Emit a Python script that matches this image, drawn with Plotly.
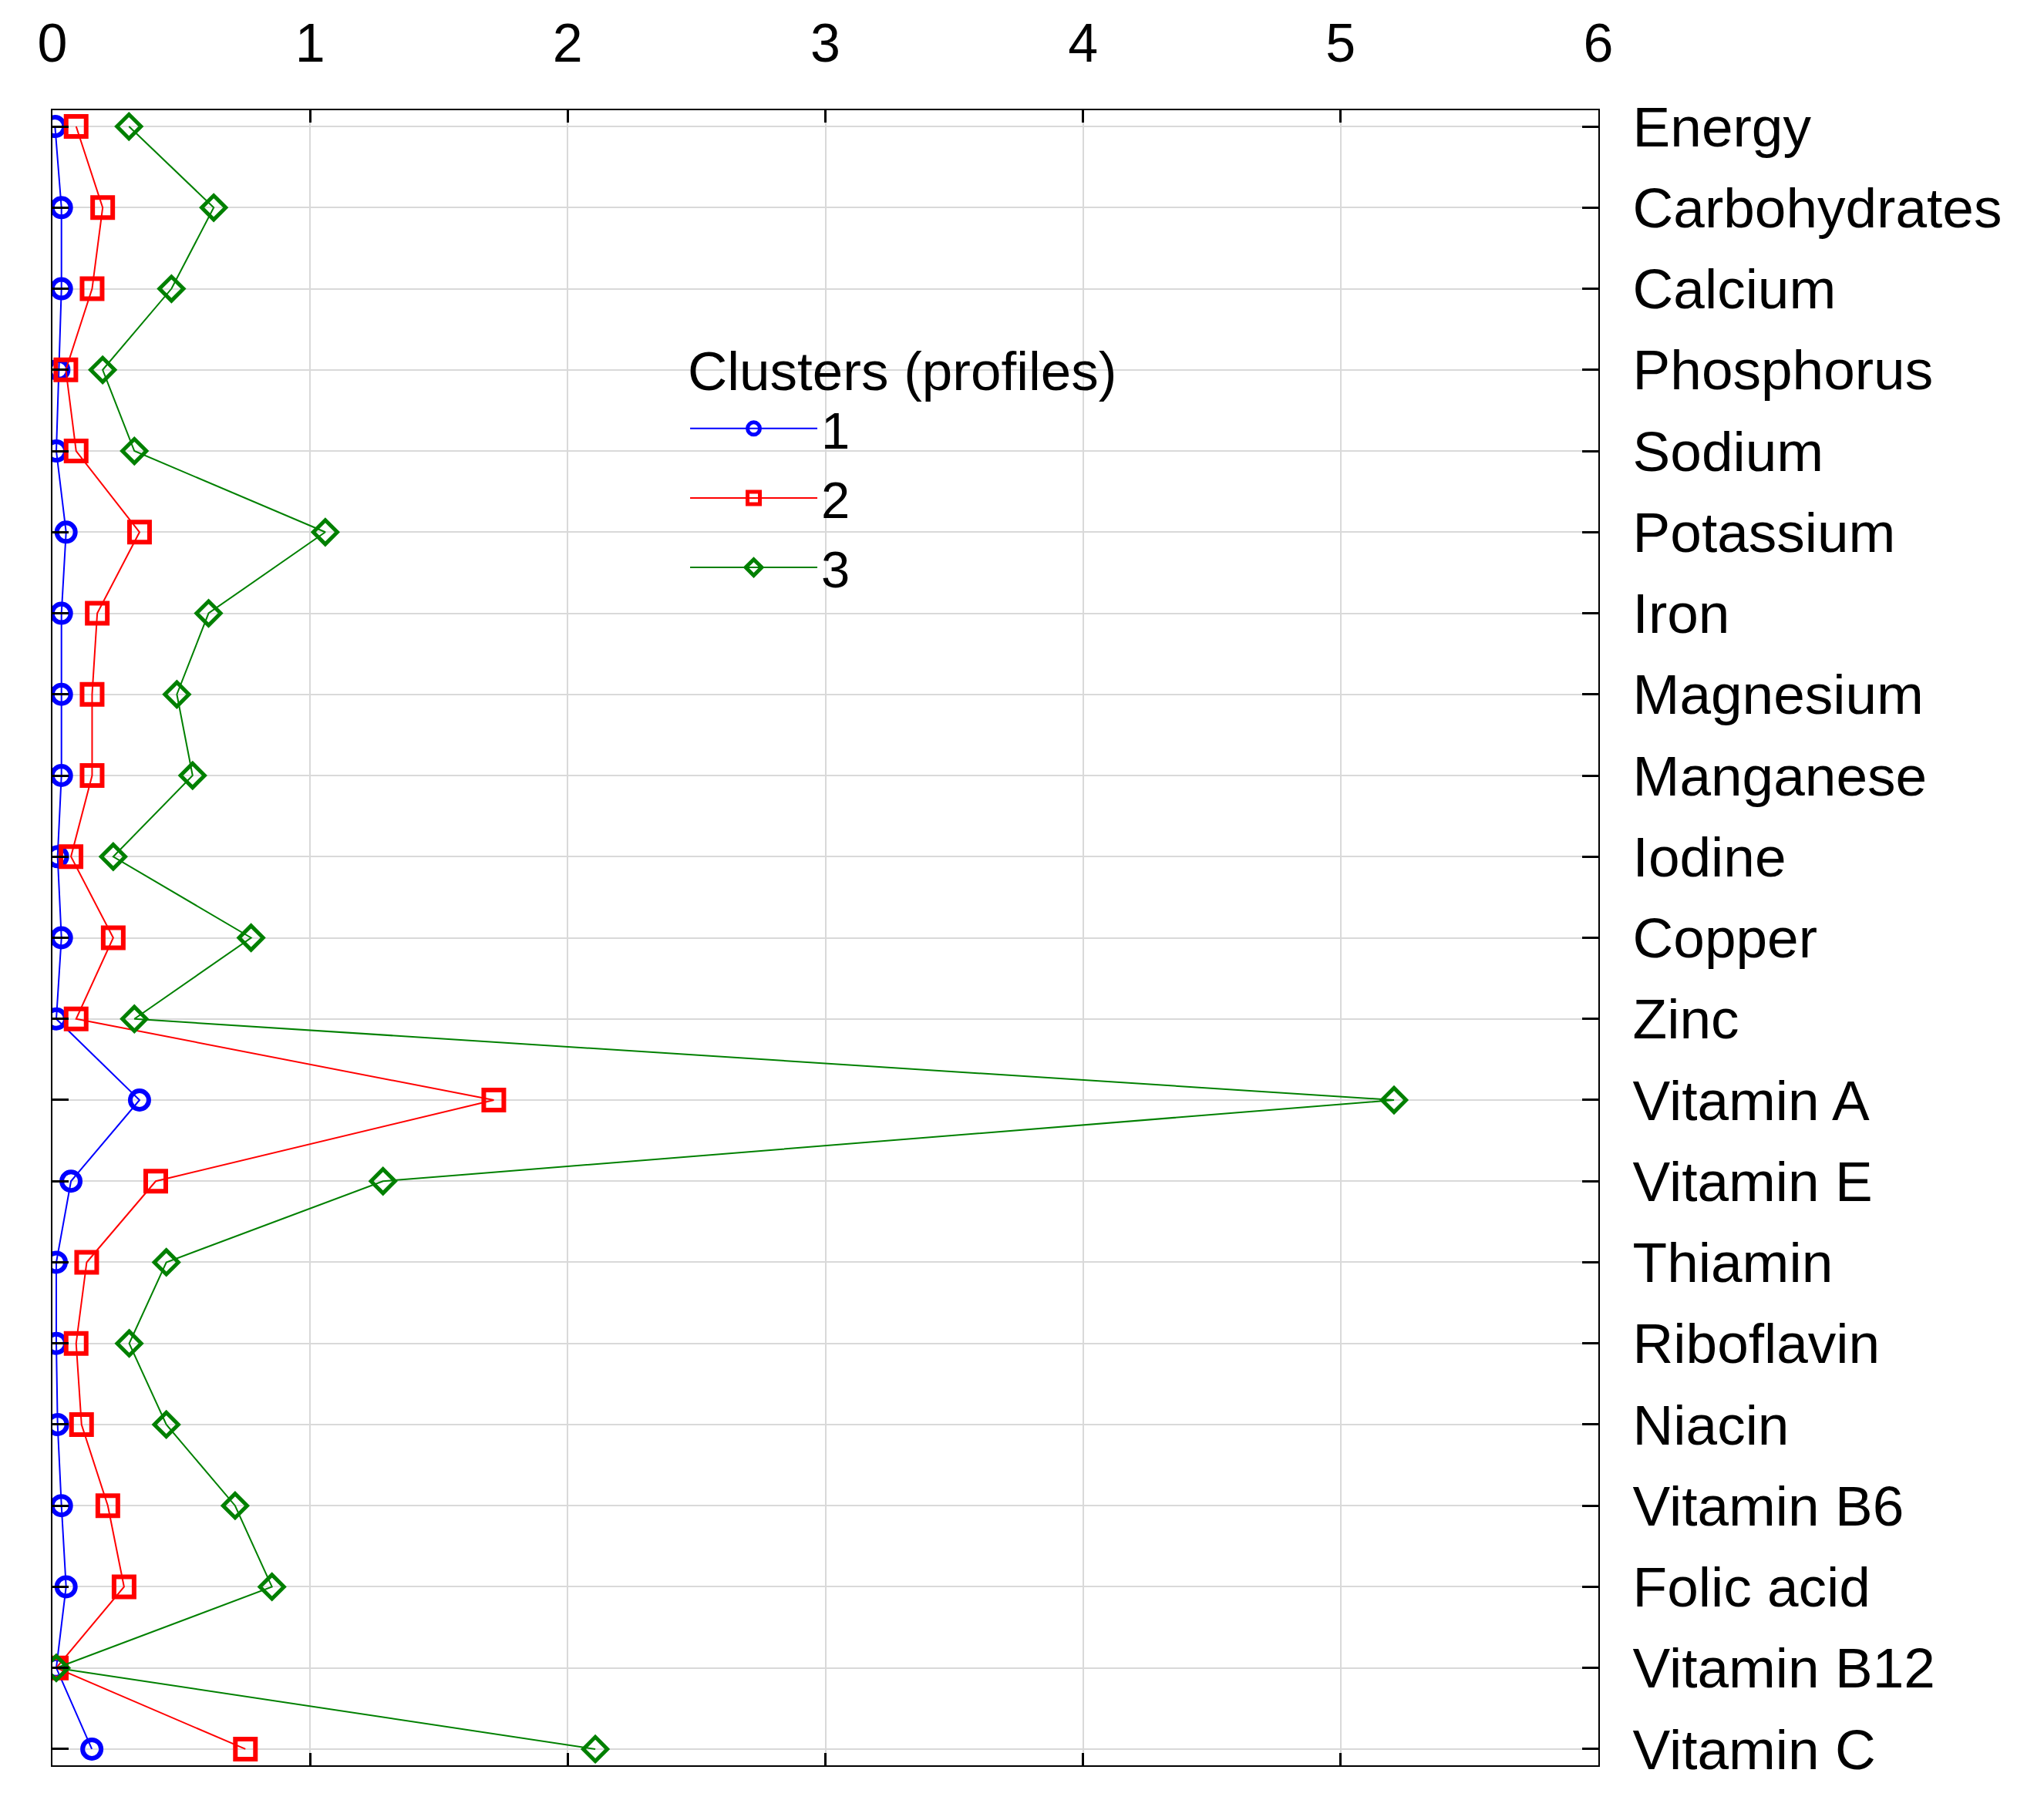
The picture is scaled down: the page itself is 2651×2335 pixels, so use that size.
import plotly.graph_objects as go

categories = ["Energy", "Carbohydrates", "Calcium", "Phosphorus", "Sodium", "Potassium",
              "Iron", "Magnesium", "Manganese", "Iodine", "Copper", "Zinc", "Vitamin A",
              "Vitamin E", "Thiamin", "Riboflavin", "Niacin", "Vitamin B6", "Folic acid",
              "Vitamin B12", "Vitamin C"]

cluster1 = [0.010, 0.035, 0.035, 0.025, 0.015, 0.053, 0.035, 0.035, 0.035, 0.020, 0.035,
            0.015, 0.338, 0.072, 0.015, 0.015, 0.020, 0.035, 0.053, 0.015, 0.153]
cluster2 = [0.092, 0.195, 0.154, 0.052, 0.092, 0.338, 0.174, 0.154, 0.154, 0.072, 0.236,
            0.092, 1.713, 0.401, 0.133, 0.092, 0.113, 0.215, 0.278, 0.015, 0.749]
cluster3 = [0.297, 0.626, 0.462, 0.195, 0.318, 1.059, 0.606, 0.483, 0.544, 0.236, 0.771,
            0.318, 5.207, 1.283, 0.442, 0.298, 0.442, 0.709, 0.852, 0.015, 2.107]

series_names = ["1", "2", "3"]
x_ticks = [0, 1, 2, 3, 4, 5, 6]

FONT = "Liberation Sans, Arial, sans-serif"

styles = [
    dict(color="#0000ff", symbol="circle-open", size=24, lw=6),
    dict(color="#ff0000", symbol="square-open", size=26, lw=6),
    dict(color="#008000", symbol="diamond-open", size=24, lw=5),
]

fig = go.Figure()
for name, vals, st in zip(series_names, [cluster1, cluster2, cluster3], styles):
    fig.add_trace(go.Scatter(
        x=vals, y=categories, name=name, mode="lines+markers",
        line=dict(color=st["color"], width=2),
        marker=dict(symbol=st["symbol"], size=st["size"], color=st["color"],
                    line=dict(color=st["color"], width=st["lw"])),
    ))

fig.update_layout(
    template="none",
    width=2635, height=2319,
    margin=dict(l=60, r=570, t=135, b=37, autoexpand=False),
    paper_bgcolor="white", plot_bgcolor="white",
    font=dict(family=FONT, color="black", size=68),
    legend=dict(
        title=dict(text="Clusters (profiles)", font=dict(size=71, family=FONT)),
        font=dict(size=67, family=FONT),
        x=0.41, y=0.874, xanchor="left", yanchor="top",
        bgcolor="rgba(0,0,0,0)", borderwidth=0, itemwidth=165, tracegroupgap=0,
    ),
    showlegend=True,
)

fig.update_xaxes(
    side="top", range=[0, 6], tickvals=x_ticks, ticktext=[str(v) for v in x_ticks],
    showgrid=True, gridcolor="#d9d9d9", gridwidth=2,
    showline=True, linecolor="black", linewidth=2, mirror="ticks",
    ticks="inside", ticklen=16, tickwidth=3, tickcolor="black",
    tickfont=dict(size=70, family=FONT), ticklabelstandoff=33, zeroline=False,
    automargin=False,
)
fig.update_yaxes(
    side="right", type="category", categoryorder="array", categoryarray=categories,
    range=[20.2, -0.2],
    showgrid=True, gridcolor="#d9d9d9", gridwidth=2,
    showline=True, linecolor="black", linewidth=2, mirror="ticks",
    ticks="inside", ticklen=21, tickwidth=3, tickcolor="black",
    tickfont=dict(size=73, family=FONT), ticklabelstandoff=28, zeroline=False,
    automargin=False,
)

fig.write_html("out.html")
